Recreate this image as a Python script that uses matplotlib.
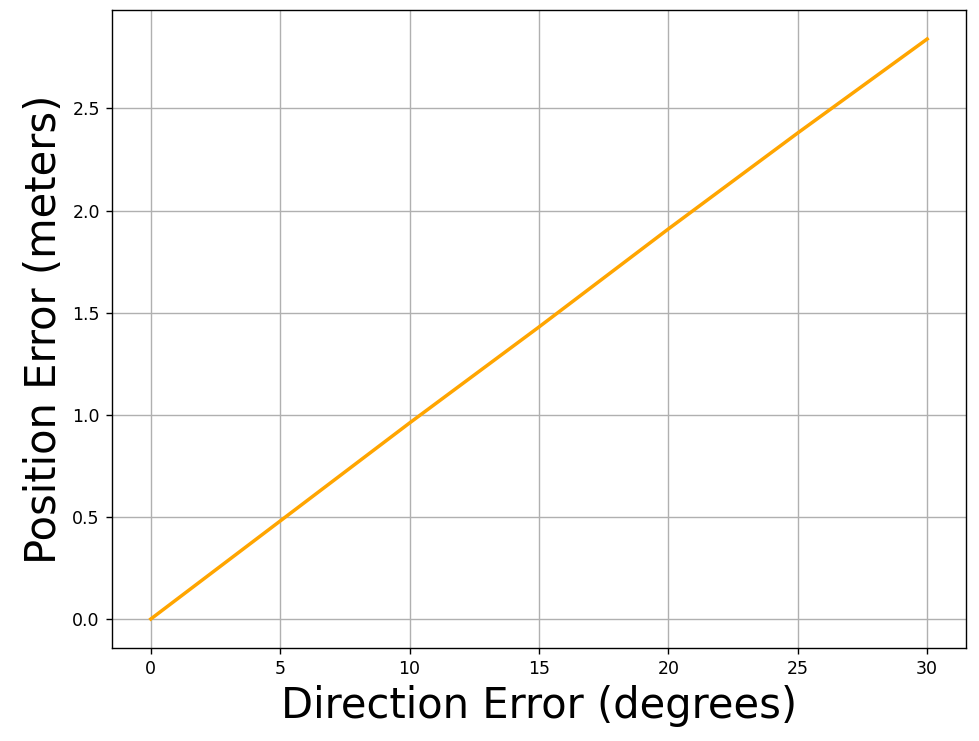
import matplotlib
matplotlib.use("Agg")
import matplotlib.pyplot as plt

# direction error in degrees
direction_deg = [0, 5, 10, 15, 20, 25, 30]
# position error in meters
position_m = [0.0, 0.48, 0.96, 1.43, 1.91, 2.38, 2.84]

fig = plt.figure(figsize=(979 / 125, 741 / 125), dpi=125)
ax = fig.add_axes([112 / 979, 1 - 648 / 741, (966 - 112) / 979, (648 - 10) / 741])
ax.plot(direction_deg, position_m, color="orange", linewidth=2)
ax.set_xlabel("Direction Error (degrees)", fontsize=24)
ax.set_ylabel("Position Error (meters)", fontsize=24)
ax.grid(True)
fig.savefig("out.png", dpi=125)
